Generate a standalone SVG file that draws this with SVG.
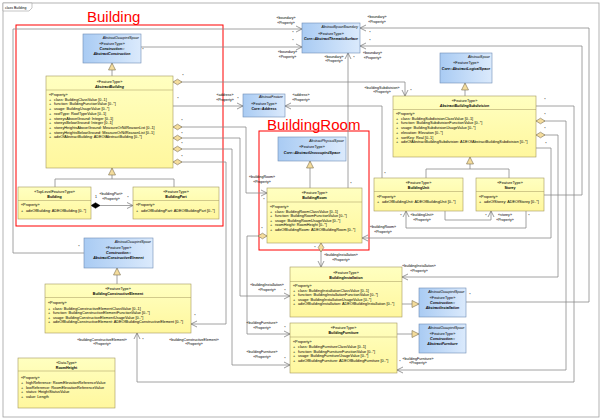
<svg xmlns="http://www.w3.org/2000/svg" width="602" height="420" viewBox="0 0 602 420">
<defs>
<linearGradient id="gy" x1="0" y1="0" x2="0" y2="1"><stop offset="0" stop-color="#ffffc0"/><stop offset="1" stop-color="#fff79e"/></linearGradient>
<linearGradient id="gb" x1="0" y1="0" x2="1" y2="0"><stop offset="0" stop-color="#a9cbf3"/><stop offset="1" stop-color="#dbeafc"/></linearGradient>
<marker id="ao" markerUnits="userSpaceOnUse" markerWidth="8" markerHeight="8" refX="6" refY="3" orient="auto" overflow="visible"><path d="M0,0 L6,3 L0,6" fill="none" stroke="#707070" stroke-width="0.7"/></marker>
<marker id="tri" markerUnits="userSpaceOnUse" markerWidth="8" markerHeight="8" refX="7" refY="3.5" orient="auto" overflow="visible"><path d="M0,0 L7,3.5 L0,7 Z" fill="#f4dc9c" stroke="#7a6e50" stroke-width="0.6"/></marker>
<marker id="dia" markerUnits="userSpaceOnUse" markerWidth="10" markerHeight="7" refX="0" refY="2.8" orient="auto" overflow="visible"><path d="M0,2.8 L4.5,0 L9,2.8 L4.5,5.6 Z" fill="#f4dc9c" stroke="#7a6e50" stroke-width="0.6"/></marker>
<marker id="diaf" markerUnits="userSpaceOnUse" markerWidth="10" markerHeight="7" refX="0" refY="2.8" orient="auto" overflow="visible"><path d="M0,2.8 L4.5,0 L9,2.8 L4.5,5.6 Z" fill="#000" stroke="#000" stroke-width="0.5"/></marker>
</defs>
<style>
.y{fill:url(#gy);stroke:#a3975e;stroke-width:0.6}
.b{fill:url(#gb);stroke:#6f8db5;stroke-width:0.6}
.d{stroke:#a3975e;stroke-width:0.5}
text{font-family:"Liberation Sans",Arial,sans-serif;fill:#000}
.h{font-size:3.8px;text-anchor:middle}
.n{font-size:3.6px;text-anchor:middle;font-weight:bold}
.ni{font-size:3.6px;text-anchor:middle;font-weight:bold;font-style:italic}
.s{font-size:3.4px;text-anchor:end;font-style:italic}
.a{font-size:3.8px}
.l{font-size:3.6px;text-anchor:middle}
.c{fill:none;stroke:#8c8c8c;stroke-width:0.8}
.red{font-size:15px;fill:#f00}
.rr{fill:none;stroke:#f00;stroke-width:1}
.fr{fill:#fff;stroke:#a0a0a0;stroke-width:0.8}
</style>
<rect width="602" height="420" fill="#fff"/>
<rect class="fr" x="3" y="3" width="596" height="414"/>
<path d="M3,3 H32 V8 L29,11 H3 Z" fill="#fff" stroke="#a0a0a0" stroke-width="0.6"/>
<text x="5" y="8.5" style="font-size:3.5px">class Building</text>

<g id="red-labels">
<rect class="rr" x="16" y="25" width="207" height="201"/>
<text class="red" x="87" y="21.5">Building</text>
<rect class="rr" x="259" y="131" width="110" height="119"/>
<text class="red" x="267" y="129.5">BuildingRoom</text>
</g>

<g id="connectors">
<path class="c" d="M84,253 H13 V29 H302" marker-end="url(#ao)"/>
<path class="c" d="M141,47 H302" marker-end="url(#ao)"/>
<path class="c" d="M466,302 H589 V28 H360" marker-end="url(#ao)"/>
<path class="c" d="M544,195 H582 V46 H360" marker-end="url(#ao)"/>
<path class="c" d="M348,188 V53" marker-end="url(#ao)"/>
<path class="c" d="M173,82 H405 V96" marker-start="url(#dia)" marker-end="url(#ao)"/>
<path class="c" d="M173,106 H243" marker-end="url(#ao)"/>
<path class="c" d="M382,178 V106 H285" marker-end="url(#ao)"/>
<path class="c" d="M173,127 H246 V193 H267" marker-start="url(#dia)" marker-end="url(#ao)"/>
<path class="c" d="M173,138 H240 V296 H290" marker-start="url(#dia)" marker-end="url(#ao)"/>
<path class="c" d="M173,149 H232 V365 H290" marker-start="url(#dia)" marker-end="url(#ao)"/>
<path class="c" d="M173,162 H226 V324 H191" marker-start="url(#dia)" marker-end="url(#ao)"/>
<path class="c" d="M267,236 H247 V334 H290" marker-start="url(#dia)" marker-end="url(#ao)"/>
<path class="c" d="M321,243 V267" marker-start="url(#dia)" marker-end="url(#ao)"/>
<path class="c" d="M526,211 V228 H406 V211" marker-end="url(#ao)"/>
<path class="c" d="M445,211 V220 H491 V211" marker-end="url(#ao)"/>
<path class="c" d="M536,106 H574 V382 H137 V333" marker-end="url(#ao)"/>
<path class="c" d="M536,121 H566 V370 H397" marker-start="url(#dia)" marker-end="url(#ao)"/>
<path class="c" d="M536,135 H558 V277 H402" marker-start="url(#dia)" marker-end="url(#ao)"/>
<path class="c" d="M536,148 H551 V238 H362" marker-end="url(#ao)"/>
<path class="c" d="M91,205.5 H133" marker-start="url(#diaf)" marker-end="url(#ao)"/>
<path class="c" d="M112,76 V63" marker-end="url(#tri)"/>
<path class="c" d="M55,187 V179 H174 V187"/>
<path class="c" d="M112,179 V168" marker-end="url(#tri)"/>
<path class="c" d="M117,284 V268" marker-end="url(#tri)"/>
<path class="c" d="M465,96 V83" marker-end="url(#tri)"/>
<path class="c" d="M426,178 V169 H509 V178"/>
<path class="c" d="M470,169 V157" marker-end="url(#tri)"/>
<path class="c" d="M310,188 V161" marker-end="url(#tri)"/>
<path class="c" d="M402,304 H419" marker-end="url(#tri)"/>
<path class="c" d="M397,334 H419" marker-end="url(#tri)"/>
<g class="l">
<text x="79" y="248.1">*</text>
<text x="286" y="18.6">«boundary»</text><text x="286" y="23.6">«Property»</text><text x="293" y="34.4">*</text>
<text x="143" y="51.4">*</text>
<text x="293" y="42.1">*</text><text x="287.5" y="53.3">«boundary»</text><text x="287.5" y="58.3">«Property»</text>
<text x="377" y="17.6">«boundary»</text><text x="377" y="23">«Property»</text><text x="370" y="34.4">*</text>
<text x="470" y="296.1">*</text>
<text x="370" y="42.1">*</text><text x="372.5" y="54">«boundary»</text><text x="372.5" y="58.6">«Property»</text>
<text x="334" y="58.3">«boundary»</text><text x="334" y="62.3">«Property»</text><text x="354" y="59.1">*</text><text x="351" y="185.1">*</text>
<text x="382" y="88.6">«buildingSubdivision»</text><text x="382" y="93">«Property»</text><text x="411" y="92.1">*</text><text x="183" y="77.1">*</text>
<text x="225" y="95.6">«address»</text><text x="225" y="100.6">«Property»</text><text x="238" y="100.1">*</text><text x="178" y="100.1">*</text>
<text x="301" y="95.6">«address»</text><text x="301" y="100.6">«Property»</text><text x="385" y="175.1">*</text>
<text x="262" y="178">«buildingRoom»</text><text x="262" y="183">«Property»</text><text x="264" y="201.4">*</text><text x="182" y="121.6">*</text>
<text x="267" y="286.3">«buildingInstallation»</text><text x="267" y="291.3">«Property»</text><text x="285" y="292.1">*</text><text x="182" y="135">*</text>
<text x="262" y="353">«buildingFurniture»</text><text x="262" y="358">«Property»</text><text x="285" y="359.8">*</text><text x="182" y="145">*</text>
<text x="194" y="340.6">«buildingConstructiveElement»</text><text x="194" y="344.6">«Property»</text><text x="195" y="317.1">*</text><text x="182" y="158">*</text>
<text x="262" y="324.3">«buildingFurniture»</text><text x="262" y="329">«Property»</text><text x="285" y="328.8">*</text><text x="262" y="230.1">*</text>
<text x="341" y="256.3">«buildingInstallation»</text><text x="341" y="261.3">«Property»</text><text x="315" y="249.1">*</text>
<text x="422" y="216.3">«buildingUnit»</text><text x="422" y="221.3">«Property»</text><text x="401" y="217.1">*</text><text x="529" y="217.1">*</text>
<text x="505" y="216.3">«storey»</text><text x="505" y="221.3">«Property»</text><text x="486" y="217.1">*</text>
<text x="102" y="340.6">«buildingConstructiveElement»</text><text x="102" y="344.6">«Property»</text><text x="143" y="341.1">*</text><text x="545" y="101.4">*</text>
<text x="418" y="360.3">«buildingFurniture»</text><text x="418" y="364.3">«Property»</text><text x="400" y="363.1">*</text><text x="545" y="116.4">*</text>
<text x="419" y="267.3">«buildingInstallation»</text><text x="419" y="272.3">«Property»</text><text x="545" y="129.8">*</text>
<text x="383" y="228.3">«buildingRoom»</text><text x="383" y="233.3">«Property»</text><text x="546" y="145.1">*</text>
<text x="96" y="198.4">1</text><text x="111" y="195.3">«buildingPart»</text><text x="111" y="200.3">«Property»</text><text x="128" y="199.1">*</text>
</g>
</g>

<g id="AbstractConstruction">
<rect class="b" x="83" y="34" width="58" height="29"/>
<text class="s" x="139" y="38.5">AbstractOccupiedSpace</text>
<text class="h" x="112" y="45.4">«FeatureType»</text>
<text class="ni" x="112" y="50.4">Construction::</text>
<text class="ni" x="112" y="55">AbstractConstruction</text>
</g>

<g id="AbstractBuilding">
<rect class="y" x="46" y="76" width="127" height="92"/>
<text class="h" x="109.5" y="82.5">«FeatureType»</text>
<text class="ni" x="109.5" y="87.5">AbstractBuilding</text>
<line class="d" x1="46" y1="90" x2="173" y2="90"/>
<text class="a" x="49" y="96.4">«Property»</text>
<text class="a" y="100.7"><tspan x="49">+</tspan><tspan x="54">class: BuildingClassValue [0..1]</tspan></text>
<text class="a" y="105.4"><tspan x="49">+</tspan><tspan x="54">function: BuildingFunctionValue [0..*]</tspan></text>
<text class="a" y="110.1"><tspan x="49">+</tspan><tspan x="54">usage: BuildingUsageValue [0..*]</tspan></text>
<text class="a" y="114.8"><tspan x="49">+</tspan><tspan x="54">roofType: RoofTypeValue [0..1]</tspan></text>
<text class="a" y="119.5"><tspan x="49">+</tspan><tspan x="54">storeysAboveGround: Integer [0..1]</tspan></text>
<text class="a" y="124.2"><tspan x="49">+</tspan><tspan x="54">storeysBelowGround: Integer [0..1]</tspan></text>
<text class="a" y="128.9"><tspan x="49">+</tspan><tspan x="54">storeyHeightsAboveGround: MeasureOrNilReasonList [0..1]</tspan></text>
<text class="a" y="133.6"><tspan x="49">+</tspan><tspan x="54">storeyHeightsBelowGround: MeasureOrNilReasonList [0..1]</tspan></text>
<text class="a" y="138.3"><tspan x="49">+</tspan><tspan x="54">adeOfAbstractBuilding: ADEOfAbstractBuilding [0..*]</tspan></text>
</g>

<g id="Building">
<rect class="y" x="18" y="187" width="73" height="32"/>
<text class="h" x="54.5" y="193.2">«TopLevelFeatureType»</text>
<text class="n" x="54.5" y="198.3">Building</text>
<line class="d" x1="18" y1="200.5" x2="91" y2="200.5"/>
<text class="a" x="21" y="205.5">«Property»</text>
<text class="a" y="211.5"><tspan x="21">+</tspan><tspan x="26">adeOfBuilding: ADEOfBuilding [0..*]</tspan></text>
</g>

<g id="BuildingPart">
<rect class="y" x="133" y="187" width="86" height="32"/>
<text class="h" x="176" y="193.2">«FeatureType»</text>
<text class="n" x="176" y="198.3">BuildingPart</text>
<line class="d" x1="133" y1="200.5" x2="219" y2="200.5"/>
<text class="a" x="136" y="205.5">«Property»</text>
<text class="a" y="211.5"><tspan x="136">+</tspan><tspan x="141">adeOfBuildingPart: ADEOfBuildingPart [0..*]</tspan></text>
</g>

<g id="AbstractConstructiveElement">
<rect class="b" x="84" y="238" width="69" height="30"/>
<text class="s" x="151" y="242.5">AbstractOccupiedSpace</text>
<text class="h" x="118.5" y="249.4">«FeatureType»</text>
<text class="ni" x="118.5" y="254.4">Construction::</text>
<text class="ni" x="118.5" y="259.4">AbstractConstructiveElement</text>
</g>

<g id="BuildingConstructiveElement">
<rect class="y" x="45" y="284" width="146" height="49"/>
<text class="h" x="118" y="289.9">«FeatureType»</text>
<text class="n" x="118" y="294.9">BuildingConstructiveElement</text>
<line class="d" x1="45" y1="297.5" x2="191" y2="297.5"/>
<text class="a" x="48" y="304.2">«Property»</text>
<text class="a" y="309.7"><tspan x="48">+</tspan><tspan x="53">class: BuildingConstructiveElementClassValue [0..1]</tspan></text>
<text class="a" y="314.2"><tspan x="48">+</tspan><tspan x="53">function: BuildingConstructiveElementFunctionValue [0..*]</tspan></text>
<text class="a" y="318.7"><tspan x="48">+</tspan><tspan x="53">usage: BuildingConstructiveElementUsageValue [0..*]</tspan></text>
<text class="a" y="323.4"><tspan x="48">+</tspan><tspan x="53">adeOfBuildingConstructiveElement: ADEOfBuildingConstructiveElement [0..*]</tspan></text>
</g>

<g id="RoomHeight">
<rect class="y" x="18" y="358" width="97" height="50"/>
<text class="h" x="66.5" y="364.1">«DataType»</text>
<text class="n" x="66.5" y="368.7">RoomHeight</text>
<line class="d" x1="18" y1="371" x2="115" y2="371"/>
<text class="a" x="21" y="378.7">«Property»</text>
<text class="a" y="384.1"><tspan x="21">+</tspan><tspan x="26">highReference: RoomElevationReferenceValue</tspan></text>
<text class="a" y="388.7"><tspan x="21">+</tspan><tspan x="26">lowReference: RoomElevationReferenceValue</tspan></text>
<text class="a" y="393.4"><tspan x="21">+</tspan><tspan x="26">status: HeightStatusValue</tspan></text>
<text class="a" y="398.1"><tspan x="21">+</tspan><tspan x="26">value: Length</tspan></text>
</g>

<g id="AbstractThematicSurface">
<rect class="b" x="302" y="23" width="58" height="30"/>
<text class="s" x="358" y="27.6">AbstractSpaceBoundary</text>
<text class="h" x="331" y="34.8">«FeatureType»</text>
<text class="ni" x="331" y="39.8">Core::AbstractThematicSurface</text>
</g>

<g id="Address">
<rect class="b" x="243" y="94" width="42" height="23"/>
<text class="s" x="283" y="98.4">AbstractFeature</text>
<text class="h" x="264" y="104.5">«FeatureType»</text>
<text class="n" x="264" y="109.5">Core::Address</text>
</g>

<g id="AbstractLogicalSpace">
<rect class="b" x="440" y="53" width="52" height="30"/>
<text class="s" x="490" y="58.2">AbstractSpace</text>
<text class="h" x="466" y="64.4">«FeatureType»</text>
<text class="ni" x="466" y="70">Core::AbstractLogicalSpace</text>
</g>

<g id="AbstractBuildingSubdivision">
<rect class="y" x="393" y="96" width="143" height="61"/>
<text class="h" x="464.5" y="101.9">«FeatureType»</text>
<text class="ni" x="464.5" y="106.9">AbstractBuildingSubdivision</text>
<line class="d" x1="393" y1="109.5" x2="536" y2="109.5"/>
<text class="a" x="396" y="114.9">«Property»</text>
<text class="a" y="119.7"><tspan x="396">+</tspan><tspan x="401">class: BuildingSubdivisionClassValue [0..1]</tspan></text>
<text class="a" y="124.4"><tspan x="396">+</tspan><tspan x="401">function: BuildingSubdivisionFunctionValue [0..*]</tspan></text>
<text class="a" y="129.1"><tspan x="396">+</tspan><tspan x="401">usage: BuildingSubdivisionUsageValue [0..*]</tspan></text>
<text class="a" y="133.8"><tspan x="396">+</tspan><tspan x="401">elevation: Elevation [0..*]</tspan></text>
<text class="a" y="138.5"><tspan x="396">+</tspan><tspan x="401">sortKey: Real [0..1]</tspan></text>
<text class="a" y="143.2"><tspan x="396">+</tspan><tspan x="401">adeOfAbstractBuildingSubdivision: ADEOfAbstractBuildingSubdivision [0..*]</tspan></text>
</g>

<g id="BuildingUnit">
<rect class="y" x="374" y="178" width="89" height="33"/>
<text class="h" x="418.5" y="184.4">«FeatureType»</text>
<text class="n" x="418.5" y="189">BuildingUnit</text>
<line class="d" x1="374" y1="191.5" x2="463" y2="191.5"/>
<text class="a" x="377" y="198.4">«Property»</text>
<text class="a" y="203.4"><tspan x="377">+</tspan><tspan x="382">adeOfBuildingUnit: ADEOfBuildingUnit [0..*]</tspan></text>
</g>

<g id="Storey">
<rect class="y" x="476" y="178" width="68" height="33"/>
<text class="h" x="510" y="184.4">«FeatureType»</text>
<text class="n" x="510" y="189">Storey</text>
<line class="d" x1="476" y1="191.5" x2="544" y2="191.5"/>
<text class="a" x="479" y="198.4">«Property»</text>
<text class="a" y="203.4"><tspan x="479">+</tspan><tspan x="484">adeOfStorey: ADEOfStorey [0..*]</tspan></text>
</g>

<g id="AbstractUnoccupiedSpace">
<rect class="b" x="278" y="137" width="68" height="24"/>
<text class="s" x="344" y="141.5">AbstractPhysicalSpace</text>
<text class="h" x="312" y="148.4">«FeatureType»</text>
<text class="ni" x="312" y="154">Core::AbstractUnoccupiedSpace</text>
</g>

<g id="BuildingRoom">
<rect class="y" x="267" y="188" width="95" height="55"/>
<text class="h" x="314.5" y="194">«FeatureType»</text>
<text class="n" x="314.5" y="199">BuildingRoom</text>
<line class="d" x1="267" y1="202" x2="362" y2="202"/>
<text class="a" x="270" y="207.8">«Property»</text>
<text class="a" y="212.5"><tspan x="270">+</tspan><tspan x="275">class: BuildingRoomClassValue [0..1]</tspan></text>
<text class="a" y="217.1"><tspan x="270">+</tspan><tspan x="275">function: BuildingRoomFunctionValue [0..*]</tspan></text>
<text class="a" y="221.7"><tspan x="270">+</tspan><tspan x="275">usage: BuildingRoomUsageValue [0..*]</tspan></text>
<text class="a" y="226.3"><tspan x="270">+</tspan><tspan x="275">roomHeight: RoomHeight [0..*]</tspan></text>
<text class="a" y="230.9"><tspan x="270">+</tspan><tspan x="275">adeOfBuildingRoom: ADEOfBuildingRoom [0..*]</tspan></text>
</g>

<g id="BuildingInstallation">
<rect class="y" x="290" y="267" width="112" height="50"/>
<text class="h" x="346" y="273.5">«FeatureType»</text>
<text class="n" x="346" y="278.5">BuildingInstallation</text>
<line class="d" x1="290" y1="281.5" x2="402" y2="281.5"/>
<text class="a" x="293" y="287.4">«Property»</text>
<text class="a" y="291.9"><tspan x="293">+</tspan><tspan x="298">class: BuildingInstallationClassValue [0..1]</tspan></text>
<text class="a" y="296.4"><tspan x="293">+</tspan><tspan x="298">function: BuildingInstallationFunctionValue [0..*]</tspan></text>
<text class="a" y="300.9"><tspan x="293">+</tspan><tspan x="298">usage: BuildingInstallationUsageValue [0..*]</tspan></text>
<text class="a" y="305.4"><tspan x="293">+</tspan><tspan x="298">adeOfBuildingInstallation: ADEOfBuildingInstallation [0..*]</tspan></text>
</g>

<g id="BuildingFurniture">
<rect class="y" x="290" y="323" width="107" height="50"/>
<text class="h" x="343.5" y="329.4">«FeatureType»</text>
<text class="n" x="343.5" y="334.4">BuildingFurniture</text>
<line class="d" x1="290" y1="337" x2="397" y2="337"/>
<text class="a" x="293" y="343.4">«Property»</text>
<text class="a" y="348.1"><tspan x="293">+</tspan><tspan x="298">class: BuildingFurnitureClassValue [0..1]</tspan></text>
<text class="a" y="352.6"><tspan x="293">+</tspan><tspan x="298">function: BuildingFurnitureFunctionValue [0..*]</tspan></text>
<text class="a" y="357.3"><tspan x="293">+</tspan><tspan x="298">usage: BuildingFurnitureUsageValue [0..*]</tspan></text>
<text class="a" y="362.2"><tspan x="293">+</tspan><tspan x="298">adeOfBuildingFurniture: ADEOfBuildingFurniture [0..*]</tspan></text>
</g>

<g id="AbstractInstallation">
<rect class="b" x="419" y="288" width="47" height="29"/>
<text class="s" x="464.5" y="292.5">AbstractOccupiedSpace</text>
<text class="h" x="442.5" y="299.4">«FeatureType»</text>
<text class="ni" x="442.5" y="304">Construction::</text>
<text class="ni" x="442.5" y="308.5">AbstractInstallation</text>
</g>

<g id="AbstractFurniture">
<rect class="b" x="419" y="324" width="47" height="29"/>
<text class="s" x="464.5" y="328.5">AbstractOccupiedSpace</text>
<text class="h" x="442.5" y="335.4">«FeatureType»</text>
<text class="ni" x="442.5" y="340">Construction::</text>
<text class="ni" x="442.5" y="344.5">AbstractFurniture</text>
</g>
</svg>
